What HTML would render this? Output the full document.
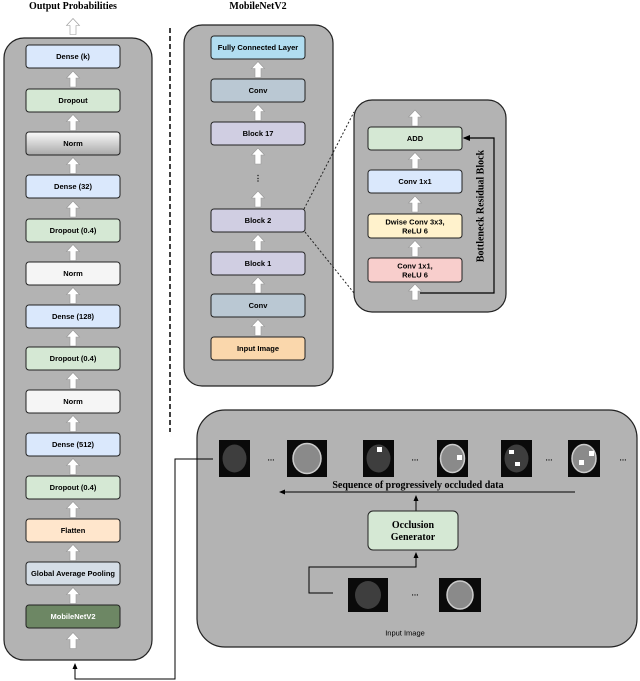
<!DOCTYPE html>
<html><head><meta charset="utf-8"><style>
body{margin:0;background:#fff}
svg{display:block}
.b{font-family:"Liberation Sans",sans-serif;font-size:7.5px;font-weight:bold;text-anchor:middle;dominant-baseline:central}
.t{font-family:"Liberation Serif",serif;font-weight:bold;font-size:10px;text-anchor:middle}
</style></head><body>
<svg width="640" height="681" viewBox="0 0 640 681" xmlns="http://www.w3.org/2000/svg">
<defs>
<linearGradient id="ng" x1="0" y1="0" x2="0" y2="1"><stop offset="0" stop-color="#fafafa"/><stop offset="1" stop-color="#a8a8a8"/></linearGradient>
<symbol id="ar" viewBox="0 0 14 16" overflow="visible"><polygon points="4,16 4,7 0.5,7 7,0 13.5,7 10,7 10,16" fill="#fff" stroke="#999" stroke-width="0.6"/></symbol>
<marker id="mh" markerWidth="6" markerHeight="6" refX="5" refY="3" orient="auto"><path d="M0,0.5 L6,3 L0,5.5z" fill="#000"/></marker>
</defs>

<!-- titles -->
<text class="t" x="73" y="9">Output Probabilities</text>
<text class="t" x="258" y="9">MobileNetV2</text>
<use href="#ar" x="66" y="18" width="14" height="17"/>

<!-- left panel -->
<rect x="4" y="38" width="148" height="622" rx="20" fill="#b3b3b3" stroke="#222" stroke-width="1.2"/>
<g stroke="#222" stroke-width="1">
<rect x="26" y="45" width="94" height="23" rx="3" fill="#dae8fc"/>
<rect x="26" y="89" width="94" height="23" rx="3" fill="#d5e8d4"/>
<rect x="26" y="132" width="94" height="23" rx="3" fill="url(#ng)"/>
<rect x="26" y="175" width="94" height="23" rx="3" fill="#dae8fc"/>
<rect x="26" y="219" width="94" height="23" rx="3" fill="#d5e8d4"/>
<rect x="26" y="262" width="94" height="23" rx="3" fill="#f5f5f5"/>
<rect x="26" y="305" width="94" height="23" rx="3" fill="#dae8fc"/>
<rect x="26" y="347" width="94" height="23" rx="3" fill="#d5e8d4"/>
<rect x="26" y="390" width="94" height="23" rx="3" fill="#f5f5f5"/>
<rect x="26" y="433" width="94" height="23" rx="3" fill="#dae8fc"/>
<rect x="26" y="476" width="94" height="23" rx="3" fill="#d5e8d4"/>
<rect x="26" y="519" width="94" height="23" rx="3" fill="#ffe6cc"/>
<rect x="26" y="562" width="94" height="23" rx="3" fill="#d4dde6"/>
<rect x="26" y="605" width="94" height="23" rx="3" fill="#6d8764"/>
</g>
<text class="b" x="73" y="56.5">Dense (k)</text>
<text class="b" x="73" y="100.5">Dropout</text>
<text class="b" x="73" y="143.5">Norm</text>
<text class="b" x="73" y="186.5">Dense (32)</text>
<text class="b" x="73" y="230.5">Dropout (0.4)</text>
<text class="b" x="73" y="273.5">Norm</text>
<text class="b" x="73" y="316.5">Dense (128)</text>
<text class="b" x="73" y="358.5">Dropout (0.4)</text>
<text class="b" x="73" y="401.5">Norm</text>
<text class="b" x="73" y="444.5">Dense (512)</text>
<text class="b" x="73" y="487.5">Dropout (0.4)</text>
<text class="b" x="73" y="530.5">Flatten</text>
<text class="b" x="73" y="573.5">Global Average Pooling</text>
<text class="b" x="73" y="616.5" fill="#fff">MobileNetV2</text>
<g>
<use href="#ar" x="66" y="70" width="14" height="18"/>
<use href="#ar" x="66" y="114" width="14" height="17"/>
<use href="#ar" x="66" y="157" width="14" height="17"/>
<use href="#ar" x="66" y="200" width="14" height="18"/>
<use href="#ar" x="66" y="244" width="14" height="17"/>
<use href="#ar" x="66" y="287" width="14" height="17"/>
<use href="#ar" x="66" y="330" width="14" height="16"/>
<use href="#ar" x="66" y="372" width="14" height="17"/>
<use href="#ar" x="66" y="415" width="14" height="17"/>
<use href="#ar" x="66" y="458" width="14" height="17"/>
<use href="#ar" x="66" y="501" width="14" height="17"/>
<use href="#ar" x="66" y="544" width="14" height="17"/>
<use href="#ar" x="66" y="587" width="14" height="17"/>
<use href="#ar" x="66" y="632" width="14" height="17"/>
</g>

<!-- dashed divider -->
<line x1="170" y1="28" x2="170" y2="432" stroke="#000" stroke-width="1.5" stroke-dasharray="5,3"/>

<!-- MobileNet panel -->
<rect x="184" y="25" width="149" height="361" rx="18" fill="#b3b3b3" stroke="#222" stroke-width="1.2"/>
<g stroke="#222" stroke-width="1">
<rect x="211" y="36" width="94" height="23" rx="3" fill="#b1ddf0"/>
<rect x="211" y="79" width="94" height="23" rx="3" fill="#bac8d3"/>
<rect x="211" y="122" width="94" height="23" rx="3" fill="#d0cee2"/>
<rect x="211" y="209" width="94" height="23" rx="3" fill="#d0cee2"/>
<rect x="211" y="252" width="94" height="23" rx="3" fill="#d0cee2"/>
<rect x="211" y="294" width="94" height="23" rx="3" fill="#bac8d3"/>
<rect x="211" y="337" width="94" height="23" rx="3" fill="#fad7ac"/>
</g>
<text class="b" x="258" y="47.5">Fully Connected Layer</text>
<text class="b" x="258" y="90.5">Conv</text>
<text class="b" x="258" y="133.5">Block 17</text>
<text class="b" x="258" y="178" font-size="10">⋮</text>
<text class="b" x="258" y="220.5">Block 2</text>
<text class="b" x="258" y="263.5">Block 1</text>
<text class="b" x="258" y="305.5">Conv</text>
<text class="b" x="258" y="348.5">Input Image</text>
<use href="#ar" x="251" y="61" width="14" height="17"/>
<use href="#ar" x="251" y="104" width="14" height="17"/>
<use href="#ar" x="251" y="147" width="14" height="18"/>
<use href="#ar" x="251" y="190" width="14" height="18"/>
<use href="#ar" x="251" y="234" width="14" height="17"/>
<use href="#ar" x="251" y="277" width="14" height="16"/>
<use href="#ar" x="251" y="319" width="14" height="17"/>

<!-- dotted zoom lines -->
<line x1="304" y1="209" x2="354" y2="112" stroke="#222" stroke-width="1" stroke-dasharray="2,2"/>
<line x1="305" y1="232" x2="354" y2="293" stroke="#222" stroke-width="1" stroke-dasharray="2,2"/>

<!-- bottleneck panel -->
<rect x="354" y="100" width="152" height="212" rx="18" fill="#b3b3b3" stroke="#222" stroke-width="1.2"/>
<g stroke="#222" stroke-width="1">
<rect x="368" y="127" width="94" height="23" rx="3" fill="#d5e8d4"/>
<rect x="368" y="170" width="94" height="23" rx="3" fill="#dae8fc"/>
<rect x="368" y="214" width="94" height="24" rx="3" fill="#fff2cc"/>
<rect x="368" y="258" width="94" height="24" rx="3" fill="#f8cecc"/>
</g>
<text class="b" x="415" y="138.5">ADD</text>
<text class="b" x="415" y="181.5">Conv 1x1</text>
<text class="b" x="415" y="222">Dwise Conv 3x3,</text>
<text class="b" x="415" y="231">ReLU 6</text>
<text class="b" x="415" y="266">Conv 1x1,</text>
<text class="b" x="415" y="275">ReLU 6</text>
<use href="#ar" x="408" y="110" width="14" height="16"/>
<use href="#ar" x="408" y="152" width="14" height="17"/>
<use href="#ar" x="408" y="195" width="14" height="18"/>
<use href="#ar" x="408" y="240" width="14" height="17"/>
<use href="#ar" x="408" y="284" width="14" height="16"/>
<polyline points="420,293 494,293 494,138 464,138" fill="none" stroke="#000" stroke-width="1.2" marker-end="url(#mh)"/>
<text class="t" transform="translate(481,206) rotate(-90)" font-size="9.5" dominant-baseline="central">Bottleneck Residual Block</text>

<!-- bottom panel -->
<rect x="197" y="410" width="440" height="237" rx="28" fill="#b3b3b3" stroke="#222" stroke-width="1.2"/>
<g>
<rect x="219" y="440" width="31" height="37" fill="#0a0a0a"/><ellipse cx="234.5" cy="458.5" rx="12" ry="14" fill="#3e3e3e"/>
<rect x="287" y="440" width="40" height="37" fill="#0a0a0a"/><ellipse cx="307" cy="458.5" rx="14" ry="15" fill="#8a8a8a" stroke="#ccc" stroke-width="1.5"/>
<rect x="363" y="440" width="31" height="37" fill="#0a0a0a"/><ellipse cx="378.5" cy="458.5" rx="12" ry="14" fill="#3e3e3e"/><rect x="377" y="447" width="5" height="5" fill="#fff"/>
<rect x="437" y="440" width="31" height="37" fill="#0a0a0a"/><ellipse cx="452.5" cy="458.5" rx="12" ry="14" fill="#8a8a8a" stroke="#ccc" stroke-width="1.5"/><rect x="457" y="455" width="5" height="5" fill="#fff"/>
<rect x="501" y="440" width="31" height="37" fill="#0a0a0a"/><ellipse cx="516.5" cy="458.5" rx="12" ry="14" fill="#3e3e3e"/><rect x="509" y="450" width="5" height="4" fill="#fff"/><rect x="515" y="462" width="5" height="4" fill="#fff"/>
<rect x="568" y="440" width="32" height="37" fill="#0a0a0a"/><ellipse cx="584" cy="458.5" rx="12" ry="14" fill="#8a8a8a" stroke="#ccc" stroke-width="1.5"/><rect x="589" y="451" width="5" height="5" fill="#fff"/><rect x="579" y="460" width="5" height="5" fill="#fff"/>
<rect x="348" y="578" width="40" height="34" fill="#0a0a0a"/><ellipse cx="368" cy="595" rx="13" ry="14" fill="#3e3e3e"/>
<rect x="439" y="578" width="42" height="34" fill="#0a0a0a"/><ellipse cx="460" cy="595" rx="13" ry="14" fill="#8a8a8a" stroke="#ccc" stroke-width="1.5"/>
</g>
<g class="b" font-size="9"><text x="271" y="458">…</text><text x="415" y="458">…</text><text x="549" y="458">…</text><text x="623" y="458">…</text><text x="415" y="593">…</text></g>
<text class="t" x="418" y="488" font-size="9.5">Sequence of progressively occluded data</text>
<line x1="575" y1="492" x2="280" y2="492" stroke="#000" stroke-width="1" marker-end="url(#mh)"/>
<line x1="416" y1="511" x2="416" y2="496" stroke="#000" stroke-width="1" marker-end="url(#mh)"/>
<rect x="368" y="511" width="90" height="39" rx="5" fill="#d5e8d4" stroke="#222" stroke-width="1"/>
<text class="t" x="413" y="528" font-size="9.5">Occlusion</text>
<text class="t" x="413" y="540" font-size="9.5">Generator</text>
<polyline points="333,593 309,593 309,567 416,567 416,553" fill="none" stroke="#000" stroke-width="1" marker-end="url(#mh)"/>
<text class="b" x="405" y="633" font-size="10" style="font-weight:normal">Input Image</text>

<!-- connector to left panel -->
<polyline points="213,459 175,459 175,679 75,679 75,664" fill="none" stroke="#000" stroke-width="1" marker-end="url(#mh)"/>
</svg>
</body></html>
